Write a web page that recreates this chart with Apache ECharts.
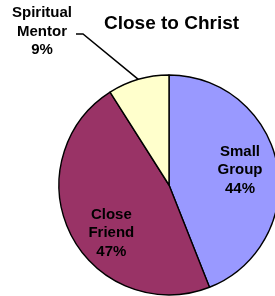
<!DOCTYPE html>
<html><head><meta charset="utf-8">
<style>html,body{margin:0;padding:0;background:#fff;}#c{width:275px;height:296px;}</style>
<script src="https://cdn.jsdelivr.net/npm/echarts@6/dist/echarts.min.js"></script>
</head><body><div id="c"></div>
<script>
const categories = ['Small Group', 'Close Friend', 'Spiritual Mentor'];
const values = [44, 47, 9];
const colors = ['#9999FF', '#993366', '#FFFFCC'];
const titleText = 'Close to Christ';

const font = 'Arial, "Liberation Sans", sans-serif';
const labelOffsets = [[14, -4], [-6, 22], [0, 0]];

const chart = echarts.init(document.getElementById('c'), null, {renderer: 'canvas'});
chart.setOption({
  animation: false,
  title: {
    text: titleText, left: 99, top: 9,
    textStyle: {fontFamily: font, fontWeight: 'bold', fontSize: 19, color: '#000'}
  },
  series: [{
    type: 'pie',
    center: [169, 185],
    radius: 110,
    startAngle: 90,
    clockwise: true,
    itemStyle: {borderColor: '#000', borderWidth: 1.4},
    label: {
      fontFamily: font, fontWeight: 'bold', fontSize: 15, color: '#000',
      lineHeight: 18.5, align: 'center',
      formatter: p => p.name.replace(' ', '\n') + '\n' + p.value + '%'
    },
    labelLine: {lineStyle: {color: '#000', width: 1.5}},
    labelLayout: function (params) {
      if (params.dataIndex === 2) {
        const p0 = params.labelLinePoints ? params.labelLinePoints[0] : null;
        const res = {x: 42, y: 31.5, align: 'center', verticalAlign: 'middle'};
        if (p0) res.labelLinePoints = [p0, [83, 34], [76, 34]];
        return res;
      }
    },
    data: categories.map((c, i) => ({
      name: c, value: values[i],
      itemStyle: {color: colors[i]},
      label: i < 2 ? {position: 'inside', offset: labelOffsets[i]} : {position: 'outside'},
      labelLine: {show: i === 2}
    }))
  }]
});
</script></body></html>
